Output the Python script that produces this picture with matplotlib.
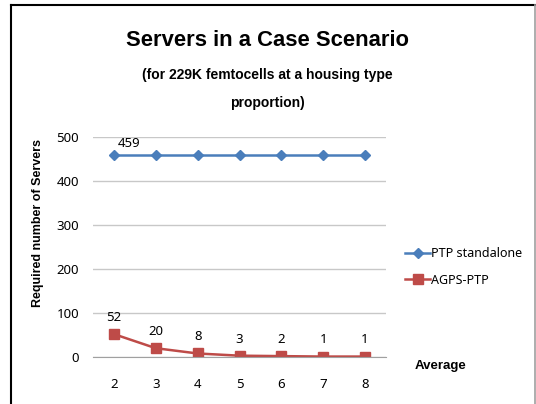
import matplotlib
matplotlib.use("Agg")
import matplotlib.pyplot as plt
from matplotlib.lines import Line2D

plt.rcParams['font.family'] = ['Noto Sans', 'DejaVu Sans']
bold_font = ['Liberation Sans', 'DejaVu Sans']

averages = [2, 3, 4, 5, 6, 7, 8]
ptp_standalone = [459, 459, 459, 459, 459, 459, 459]
agps_ptp = [52, 20, 8, 3, 2, 1, 1]
yticks = [0, 100, 200, 300, 400, 500]

blue = '#4A7EBB'
red = '#BE4B48'

fig = plt.figure(figsize=(5.36, 4.04), dpi=100)
ax = fig.add_axes([93/536, 1 - 357/404, (386 - 93)/536, (357 - 137)/404])

ax.plot(averages, ptp_standalone, color=blue, lw=1.8, marker='D', ms=5.5,
        label='PTP standalone')
ax.plot(averages, agps_ptp, color=red, lw=1.8, marker='s', ms=6.8,
        label='AGPS-PTP')

ax.set_xlim(1.5, 8.5)
ax.set_ylim(0, 500)
ax.set_yticks(yticks)
ax.set_xticks(averages)
ax.tick_params(length=0, labelsize=9.5, pad=15)
ax.tick_params(axis='y', pad=10)
ax.grid(axis='y', color='#c8c8c8', lw=1)
ax.set_axisbelow(True)
for s in ['left', 'right', 'top']:
    ax.spines[s].set_visible(False)
ax.spines['bottom'].set_color('#a0a0a0')

# data labels
ax.annotate(str(ptp_standalone[0]), (averages[0], ptp_standalone[0]),
            xytext=(11, 8), textcoords='offset points', ha='center',
            va='center', fontsize=9.5)
for x, y in zip(averages, agps_ptp):
    ax.annotate(str(y), (x, y), xytext=(0, 12), textcoords='offset points',
                ha='center', va='center', fontsize=9.5)

ax.set_ylabel('Required number of Servers', fontsize=9, fontweight='bold',
              family=bold_font)
ax.yaxis.set_label_coords(-0.166, 0.61)

fig.text(267/536, 1 - 40/404, 'Servers in a Case Scenario', ha='center',
         va='center', fontsize=15.8, fontweight='bold', family=bold_font)
fig.text(267/536, 1 - 75/404, '(for 229K femtocells at a housing type',
         ha='center', va='center', fontsize=10, fontweight='bold',
         family=bold_font)
fig.text(267/536, 1 - 103/404, 'proportion)', ha='center', va='center',
         fontsize=10, fontweight='bold', family=bold_font)
fig.text(415/536, 1 - 366/404, 'Average', ha='left', va='center',
         fontsize=9.5, fontweight='bold', family=bold_font)

ax.legend(loc='upper left', bbox_to_anchor=(400/536, 1 - 242/404),
          bbox_transform=fig.transFigure, frameon=False, fontsize=9,
          handlelength=2.0, handletextpad=0.1, labelspacing=1.1,
          borderaxespad=0)

# frame of the chart area
fig.add_artist(Line2D([11/536, 11/536], [0, 1 - 5/404], color='black', lw=1.5,
                      transform=fig.transFigure))
fig.add_artist(Line2D([11/536, 535/536], [1 - 5/404, 1 - 5/404], color='black',
                      lw=1.5, transform=fig.transFigure))
fig.add_artist(Line2D([535/536, 535/536], [0, 1 - 5/404], color='#a0a0a0',
                      lw=1.2, transform=fig.transFigure))

fig.savefig('out.png', dpi=100)
